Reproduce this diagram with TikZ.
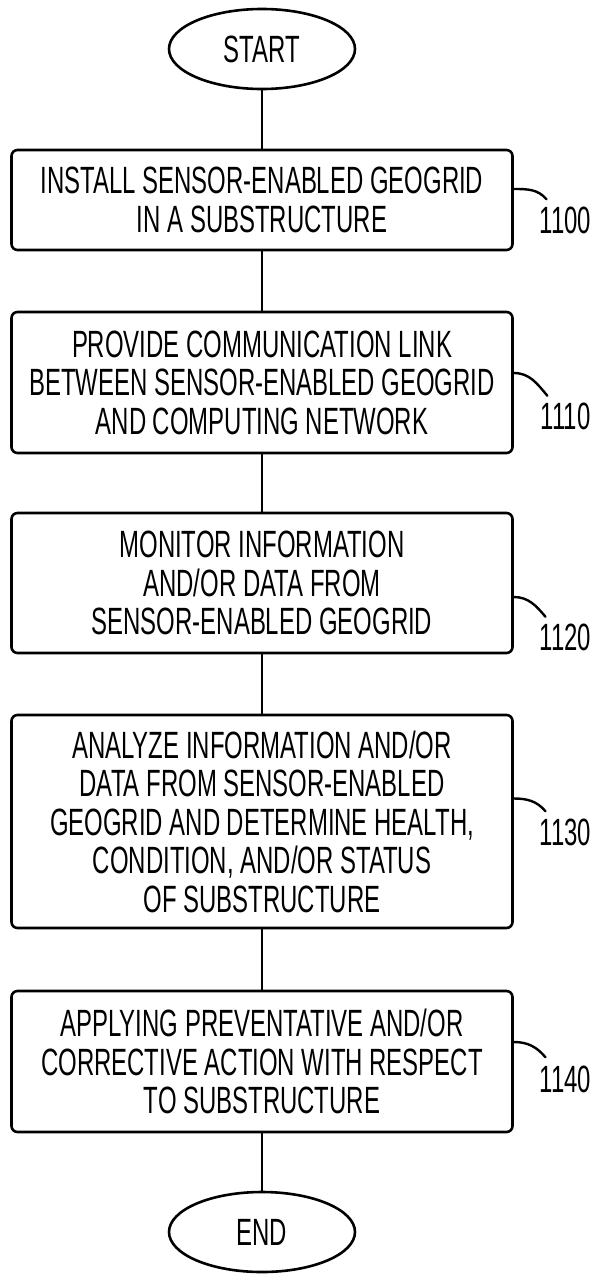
\documentclass[tikz,border=0pt]{standalone}
\usepackage{fontspec}
\setmainfont{Liberation Sans}[FakeStretch=0.63]
\usetikzlibrary{shapes.geometric}

\begin{document}
\begin{tikzpicture}[x=1pt,y=-1pt,line width=2.6pt,line join=round,
  stepbox/.style={draw,rounded corners=6pt,minimum width=501pt,align=center,inner sep=0pt,
    font=\fontsize{38}{38.5}\selectfont},
  term/.style={draw,ellipse,minimum width=186pt,minimum height=80pt,inner sep=0pt,
    font=\fontsize{38}{38.5}\selectfont},
  refnum/.style={inner sep=0pt,font=\fontsize{38}{38.5}\selectfont},
  lead/.style={line width=2.4pt,line cap=round}]
  \useasboundingbox (0,0) rectangle (598,1274);

  \node[term] (start) at (262,49) {START};
  \node[stepbox,minimum height=100pt] (s1100) at (262,200) {INSTALL SENSOR-ENABLED GEOGRID\\IN A SUBSTRUCTURE};
  \node[stepbox,minimum height=141pt] (s1110) at (262,382.5) {PROVIDE COMMUNICATION LINK\\BETWEEN SENSOR-ENABLED GEOGRID\\AND COMPUTING NETWORK};
  \node[stepbox,minimum height=140pt] (s1120) at (262,583) {MONITOR INFORMATION\\AND/OR DATA FROM\\SENSOR-ENABLED GEOGRID};
  \node[stepbox,minimum height=213pt] (s1130) at (262,821.5) {ANALYZE INFORMATION AND/OR\\DATA FROM SENSOR-ENABLED\\GEOGRID AND DETERMINE HEALTH,\\CONDITION, AND/OR STATUS\\OF SUBSTRUCTURE};
  \node[stepbox,minimum height=141pt] (s1140) at (262,1061.5) {APPLYING PREVENTATIVE AND/OR\\CORRECTIVE ACTION WITH RESPECT\\TO SUBSTRUCTURE};
  \node[term] (end) at (262,1232) {END};

  \draw (start) -- (s1100) -- (s1110) -- (s1120) -- (s1130) -- (s1140) -- (end);

  % reference numerals
  \node[refnum] (r1100) at (565.5,220) {1100};
  \node[refnum] (r1110) at (565.5,416.5) {1110};
  \node[refnum] (r1120) at (565.5,637.5) {1120};
  \node[refnum] (r1130) at (565.5,832) {1130};
  \node[refnum] (r1140) at (565.5,1079) {1140};
  \draw[lead] ([yshift=11pt]s1100.east) to[out=0,in=130] ([shift={(8pt,6pt)}]r1100.north west);
  \draw[lead] ([yshift=9.5pt]s1110.east) to[out=0,in=130] ([shift={(8pt,6pt)}]r1110.north west);
  \draw[lead] ([yshift=-14pt]s1120.east) to[out=0,in=130] ([shift={(7pt,6pt)}]r1120.north west);
  \draw[lead] ([yshift=23pt]s1130.east) to[out=0,in=130] ([shift={(7pt,6pt)}]r1130.north west);
  \draw[lead] ([yshift=19.5pt]s1140.east) to[out=0,in=130] ([shift={(7pt,7pt)}]r1140.north west);
\end{tikzpicture}
\end{document}
